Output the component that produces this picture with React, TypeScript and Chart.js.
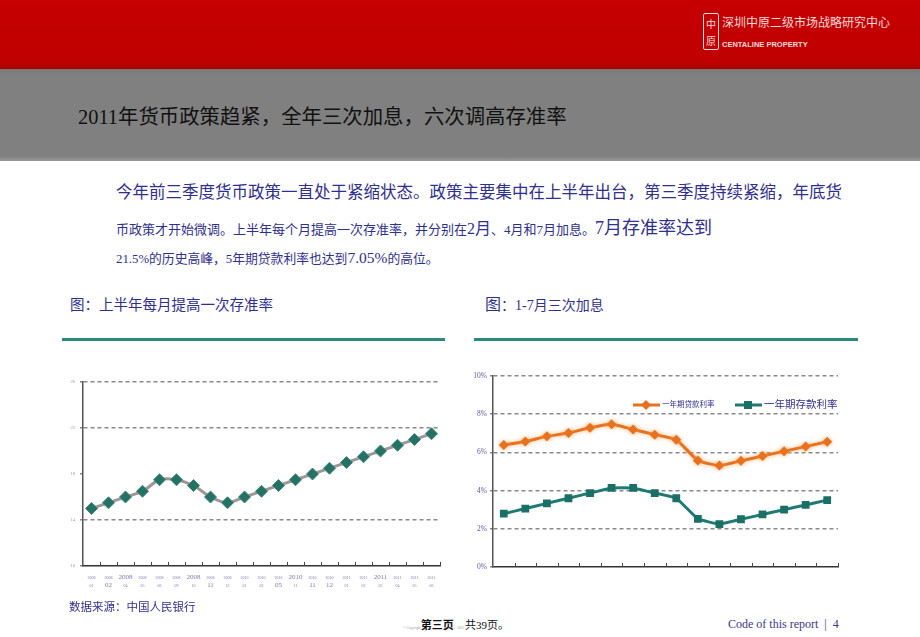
import React, { useEffect, useRef } from "react";
import { Chart, registerables } from "chart.js";

Chart.register(...registerables);

// ---------- Data: left chart (存款准备金率) ----------
const rrrYears = ["2008", "2008", "2008", "2008", "2008", "2008", "2008", "2008", "2008", "2010", "2010", "2010", "2010", "2010", "2010", "2011", "2011", "2011", "2011", "2011", "2011"];
const rrrMonths = ["01", "02", "04", "05", "06", "09", "10", "11", "12", "01", "02", "05", "11", "11", "12", "01", "02", "03", "04", "05", "06"];
const rrrValues = [15, 15.5, 16, 16.5, 17.5, 17.5, 17, 16, 15.5, 16, 16.5, 17, 17.5, 18, 18.5, 19, 19.5, 20, 20.5, 21, 21.5];
const rrrAxisTicks = [10, 14, 18, 22, 26];
const rrrBigYearIdx = [2, 6, 12, 17];
const rrrBigMonthIdx = [1, 7, 11, 13, 14];

// ---------- Data: right chart (利率) ----------
const rateDates = ["2007-03-18", "2007-05-19", "2007-07-21", "2007-08-22", "2007-09-15", "2007-12-21", "2008-09-16", "2008-10-09", "2008-10-30", "2008-11-27", "2008-12-23", "2010-10-20", "2010-12-26", "2011-02-09", "2011-04-06", "2011-07-07"];
const loanRates = [6.39, 6.57, 6.84, 7.02, 7.29, 7.47, 7.2, 6.93, 6.66, 5.58, 5.31, 5.56, 5.81, 6.06, 6.31, 6.56];
const depositRates = [2.79, 3.06, 3.33, 3.6, 3.87, 4.14, 4.14, 3.87, 3.6, 2.52, 2.25, 2.5, 2.75, 3.0, 3.25, 3.5];
const rateAxisTicks = [0, 2, 4, 6, 8, 10];
const loanLabel = "一年期贷款利率";
const depositLabel = "一年期存款利率";

const NAVY = "#2f2f8f";
const TEAL = "#1f7a72";
const ORANGE = "#e8711f";
const CJK = '"Liberation Serif", "Noto Sans CJK SC", serif';

const innerXTicks = {
  id: "innerXTicks",
  afterDatasetsDraw(chart: any) {
    const x = chart.scales.x;
    const ctx = chart.ctx;
    const n = chart.data.labels.length;
    const b = chart.chartArea.bottom;
    ctx.save();
    ctx.strokeStyle = "#444";
    ctx.lineWidth = 1;
    for (let i = 1; i <= n; i++) {
      const px = Math.round(x.left + (i * x.width) / n) + 0.5;
      ctx.beginPath();
      ctx.moveTo(px, b);
      ctx.lineTo(px, b - 4);
      ctx.stroke();
    }
    ctx.restore();
  },
};

const twoRowLabels = {
  id: "twoRowLabels",
  afterDraw(chart: any) {
    const x = chart.scales.x;
    const ctx = chart.ctx;
    const b = chart.chartArea.bottom;
    ctx.save();
    ctx.fillStyle = "#7a7ab0";
    ctx.textAlign = "center";
    ctx.textBaseline = "middle";
    rrrYears.forEach((t, i) => {
      const px = x.getPixelForValue(i);
      ctx.font = `${rrrBigYearIdx.includes(i) ? 7 : 4}px "Liberation Serif"`;
      ctx.fillText(t, px, b + 11.5);
      ctx.font = `${rrrBigMonthIdx.includes(i) ? 7 : 4}px "Liberation Serif"`;
      ctx.fillText(rrrMonths[i], px, b + 19.5);
    });
    ctx.restore();
  },
};

const rateLegend = {
  id: "rateLegend",
  afterDraw(chart: any) {
    const ctx = chart.ctx;
    const a = chart.chartArea;
    const y = a.top + 29;
    const items = [
      { ds: 0, x0: a.left + 140, size: 7.5, shape: "diamond" },
      { ds: 1, x0: a.left + 242, size: 10.5, shape: "square" },
    ];
    ctx.save();
    items.forEach((it) => {
      const d = chart.data.datasets[it.ds];
      ctx.strokeStyle = d.borderColor;
      ctx.lineWidth = 3;
      ctx.beginPath();
      ctx.moveTo(it.x0, y);
      ctx.lineTo(it.x0 + 27, y);
      ctx.stroke();
      ctx.fillStyle = d.pointBackgroundColor;
      const cx = it.x0 + 13;
      if (it.shape === "diamond") {
        ctx.beginPath();
        ctx.moveTo(cx, y - 5);
        ctx.lineTo(cx + 5, y);
        ctx.lineTo(cx, y + 5);
        ctx.lineTo(cx - 5, y);
        ctx.closePath();
        ctx.fill();
      } else {
        ctx.fillRect(cx - 4, y - 4, 8, 8);
      }
      ctx.fillStyle = NAVY;
      ctx.font = `${it.size}px ${CJK}`;
      ctx.textAlign = "left";
      ctx.textBaseline = "middle";
      ctx.fillText(d.label, it.x0 + 29, y);
    });
    ctx.restore();
  },
};

const orangeGlow = {
  id: "orangeGlow",
  beforeDatasetDraw(chart: any, args: any) {
    if (args.index === 0) {
      chart.ctx.save();
      chart.ctx.shadowColor = "rgba(245,170,100,0.8)";
      chart.ctx.shadowBlur = 4;
    }
  },
  afterDatasetDraw(chart: any, args: any) {
    if (args.index === 0) chart.ctx.restore();
  },
};

function RRRChart() {
  const ref = useRef<HTMLCanvasElement>(null);
  useEffect(() => {
    const chart = new Chart(ref.current as HTMLCanvasElement, {
      type: "line",
      data: {
        labels: rrrYears.map((y, i) => `${y}-${rrrMonths[i]}`),
        datasets: [
          {
            label: "存款准备金率",
            data: rrrValues,
            borderColor: "#a09696",
            borderWidth: 3,
            tension: 0.3,
            pointStyle: "rectRot",
            pointRadius: 6,
            pointBackgroundColor: "#267064",
            pointBorderColor: "#3a8a80",
            pointBorderWidth: 1,
          },
        ],
      },
      options: {
        responsive: false,
        animation: false,
        events: [],
        layout: { padding: { top: 10, right: 10, left: 0, bottom: 0 } },
        plugins: { legend: { display: false }, tooltip: { enabled: false } },
        scales: {
          x: {
            offset: true,
            ticks: { display: false },
            grid: { display: false, drawTicks: false },
            border: { display: true, color: "#333", width: 1.5 },
            afterFit: (s: any) => {
              s.height = 38;
            },
          },
          y: {
            min: rrrAxisTicks[0],
            max: rrrAxisTicks[rrrAxisTicks.length - 1],
            afterBuildTicks: (s: any) => {
              s.ticks = rrrAxisTicks.map((v) => ({ value: v }));
            },
            ticks: {
              font: { size: 4.5, family: "Liberation Serif" },
              color: "#999",
              padding: 5,
            },
            grid: {
              color: (c: any) => (c.tick && (c.tick.value === 18 || c.tick.value === 10) ? "rgba(0,0,0,0)" : "#8a8a8a"),
              lineWidth: 1.5,
              tickLength: 3,
              tickColor: "#888",
            },
            border: { display: true, color: "#555", width: 1.5, dash: [4, 3] },
            afterFit: (s: any) => {
              s.width = 33;
            },
          },
        },
      },
      plugins: [innerXTicks, twoRowLabels],
    } as any);
    return () => chart.destroy();
  }, []);
  return <canvas ref={ref} width={400} height={232} style={{ position: "absolute", left: 50, top: 372, width: 400, height: 232 }} />;
}

function RateChart() {
  const ref = useRef<HTMLCanvasElement>(null);
  useEffect(() => {
    const chart = new Chart(ref.current as HTMLCanvasElement, {
      type: "line",
      data: {
        labels: rateDates,
        datasets: [
          {
            label: loanLabel,
            data: loanRates,
            borderColor: ORANGE,
            borderWidth: 3,
            tension: 0.15,
            pointStyle: "rectRot",
            pointRadius: 5,
            pointBackgroundColor: ORANGE,
            pointBorderColor: ORANGE,
            pointBorderWidth: 0,
          },
          {
            label: depositLabel,
            data: depositRates,
            borderColor: TEAL,
            borderWidth: 3,
            tension: 0.1,
            pointStyle: "rect",
            pointRadius: 5.5,
            pointBackgroundColor: "#1a6f67",
            pointBorderColor: "#1a6f67",
            pointBorderWidth: 0,
          },
        ],
      },
      options: {
        responsive: false,
        animation: false,
        events: [],
        layout: { padding: { top: 10, right: 12, left: 0, bottom: 0 } },
        plugins: { legend: { display: false }, tooltip: { enabled: false } },
        scales: {
          x: {
            offset: true,
            ticks: { display: false },
            grid: { display: false, drawTicks: false },
            border: { display: true, color: "#333", width: 1.5 },
            afterFit: (s: any) => {
              s.height = 14;
            },
          },
          y: {
            min: 0,
            max: 10,
            afterBuildTicks: (s: any) => {
              s.ticks = rateAxisTicks.map((v) => ({ value: v }));
            },
            ticks: {
              font: { size: 7.5, family: "Liberation Serif" },
              color: "#5a5aa8",
              padding: 3,
              callback: (v: any) => `${v}%`,
            },
            grid: {
              color: (c: any) => (c.tick && c.tick.value === 0 ? "rgba(0,0,0,0)" : "#8a8a8a"),
              lineWidth: 1.5,
              tickLength: 3,
              tickColor: "#888",
            },
            border: { display: true, color: "#555", width: 1.5, dash: [4, 3] },
            afterFit: (s: any) => {
              s.width = 38;
            },
          },
        },
      },
      plugins: [innerXTicks, rateLegend, orangeGlow],
    } as any);
    return () => chart.destroy();
  }, []);
  return <canvas ref={ref} width={395} height={215} style={{ position: "absolute", left: 455, top: 366, width: 395, height: 215 }} />;
}

const abs = (s: React.CSSProperties): React.CSSProperties => ({ position: "absolute", whiteSpace: "nowrap", ...s });

export default function App() {
  return (
    <div style={{ position: "absolute", left: 0, top: 0, width: 920, height: 637, overflow: "hidden", background: "#fff", fontFamily: CJK }}>
      {/* header */}
      <div style={abs({ left: 0, top: 0, width: 920, height: 69, background: "linear-gradient(#c60000, #c00000 90%, #a80000)" })} />
      <div style={abs({ left: 0, top: 69, width: 920, height: 92, background: "linear-gradient(#7a7a7a, #808080 8%, #808080 95%, #9a9a9a)" })} />
      <div style={abs({ left: 703, top: 13, width: 16, height: 37, border: "1px solid #f3d6d6", borderRadius: 2, boxSizing: "border-box" })} />
      <div style={abs({ left: 704, top: 15, width: 14, fontSize: 10, lineHeight: "17px", color: "#f6dede", textAlign: "center", fontFamily: '"Noto Sans CJK SC"' })}>中<br />原</div>
      <div style={abs({ left: 722, top: 14, fontSize: 12, lineHeight: "16px", color: "#f6dada", fontFamily: '"Noto Sans CJK SC"' })}>深圳中原二级市场战略研究中心</div>
      <div style={abs({ left: 722, top: 40, fontSize: 7.5, lineHeight: "10px", color: "#f6dada", fontWeight: 700, fontFamily: '"Liberation Sans"' })}>CENTALINE PROPERTY</div>
      <div style={abs({ left: 78, top: 104, fontSize: 20.4, lineHeight: "26px", color: "#111" })}>2011年货币政策趋紧，全年三次加息，六次调高存准率</div>

      {/* body text */}
      <div style={abs({ left: 116, top: 181, fontSize: 16.5, lineHeight: "24px", color: NAVY })}>今年前三季度货币政策一直处于紧缩状态。政策主要集中在上半年出台，第三季度持续紧缩，年底货</div>
      <div style={abs({ left: 116, top: 216, lineHeight: "24px", color: NAVY, fontSize: 13 })}>
        币政策才开始微调。上半年每个月提高一次存准率，并分别在<span style={{ fontSize: 16 }}>2月</span>、4月和7月加息。<span style={{ fontSize: 18 }}>7月存准率达到</span>
      </div>
      <div style={abs({ left: 116, top: 248, lineHeight: "20px", color: NAVY, fontSize: 12.8 })}>
        21.5%的历史高峰，5年期贷款利率也达到<span style={{ fontSize: 15.5 }}>7.05%</span>的高位。
      </div>

      {/* section titles */}
      <div style={abs({ left: 70, top: 296, fontSize: 14.5, lineHeight: "18px", color: NAVY })}>图：上半年每月提高一次存准率</div>
      <div style={abs({ left: 485, top: 295, fontSize: 14, lineHeight: "20px", color: NAVY })}><span style={{ fontSize: 16 }}>图</span>：1-7月三次加息</div>
      <div style={abs({ left: 62, top: 338, width: 383, height: 3, background: "#2a8a82" })} />
      <div style={abs({ left: 474, top: 338, width: 384, height: 3, background: "#2a8a82" })} />

      <RRRChart />
      <RateChart />

      {/* footer */}
      <div style={abs({ left: 69, top: 599, fontSize: 11.5, lineHeight: "16px", color: NAVY })}>数据来源：中国人民银行</div>
      <div style={abs({ left: 403, top: 618, fontSize: 11, lineHeight: "14px", color: "#111" })}>
        <span style={{ fontSize: 3.5, color: "#999" }}>© Copyright</span>
        <span style={{ fontWeight: 700 }}>第三页</span>
        <span style={{ fontSize: 3.5, color: "#999" }}>，2011 </span>
        共39页。
      </div>
      <div style={abs({ left: 728, top: 616, fontSize: 12, lineHeight: "16px", color: "#3a3a8a", fontFamily: '"Liberation Serif", serif' })}>Code of this report&nbsp;&nbsp;|&nbsp;&nbsp;4</div>
    </div>
  );
}
